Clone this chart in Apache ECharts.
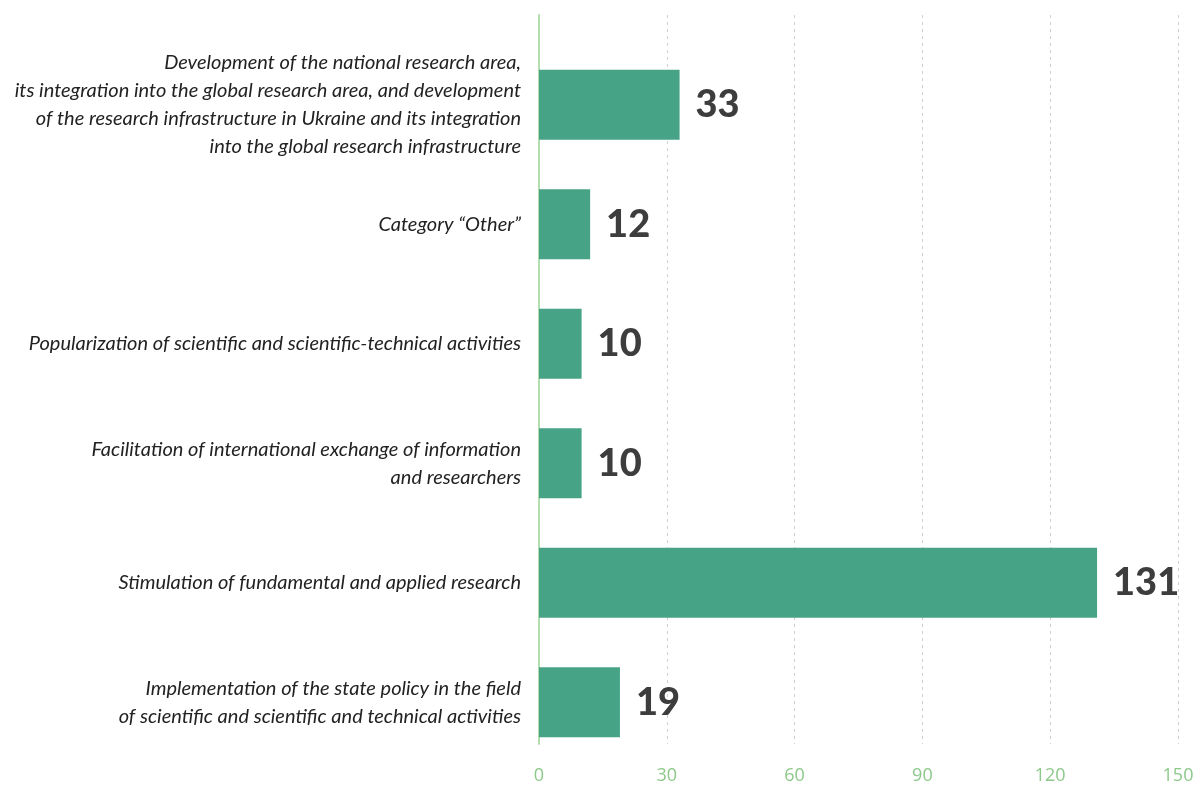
<!DOCTYPE html>
<html>
<head>
<meta charset="utf-8">
<script src="https://cdn.jsdelivr.net/npm/echarts@6/dist/echarts.min.js"></script>
<style>html,body{margin:0;padding:0;background:#fff}#c{width:1200px;height:785px}</style>
</head>
<body>
<div id="c"></div>
<script>
const categories = [
  "Development of the national research area,\nits integration into the global research area, and development\nof the research infrastructure in Ukraine and its integration\ninto the global research infrastructure",
  "Category “Other”",
  "Popularization of scientific and scientific-technical activities",
  "Facilitation of international exchange of information\nand researchers",
  "Stimulation of fundamental and applied research",
  "Implementation of the state policy in the field\nof scientific and scientific and technical activities"
];
const values = [33, 12, 10, 10, 131, 19];
const xTicks = [0, 30, 60, 90, 120, 150];

const chart = echarts.init(document.getElementById('c'), null, {renderer: 'canvas'});
chart.setOption({
  animation: false,
  grid: [
    {left: 539, right: 22, top: 15, bottom: 41, containLabel: false},
    {left: 539, right: 22, top: 45, bottom: 23, containLabel: false}
  ],
  xAxis: [
    {
      gridIndex: 0, type: 'value', min: xTicks[0], max: xTicks[xTicks.length - 1], interval: 30,
      axisLine: {show: false}, axisTick: {show: false},
      splitLine: {show: true, lineStyle: {color: '#cfcfcf', type: [3, 4], width: 1}},
      axisLabel: {color: '#8dc98a', fontSize: 18, fontFamily: 'Open Sans', margin: 23,
        formatter: v => xTicks.includes(v) ? String(v) : ''},
    },
    {
      gridIndex: 1, type: 'value', min: xTicks[0], max: xTicks[xTicks.length - 1], interval: 30,
      show: false
    }
  ],
  yAxis: [
    {
      gridIndex: 0, type: 'category', data: categories, inverse: true,
      axisLine: {show: true, lineStyle: {color: '#b3dcaf', width: 2}},
      axisTick: {show: false}, axisLabel: {show: false}, splitLine: {show: false}
    },
    {
      gridIndex: 1, type: 'category', data: categories, inverse: true,
      axisLine: {show: false}, axisTick: {show: false},
      axisLabel: {
        show: true, margin: 18, color: '#222', fontSize: 20, fontStyle: 'italic',
        fontFamily: 'Lato', lineHeight: 28, align: 'right'
      }
    }
  ],
  series: [{
    type: 'bar', xAxisIndex: 1, yAxisIndex: 1, data: values, barWidth: 70,
    itemStyle: {color: '#46a386'},
    label: {show: true, position: 'right', distance: 16, color: '#3d3d3d',
      fontSize: 38, fontWeight: 900, fontFamily: 'Lato'}
  }]
});
</script>
</body>
</html>
